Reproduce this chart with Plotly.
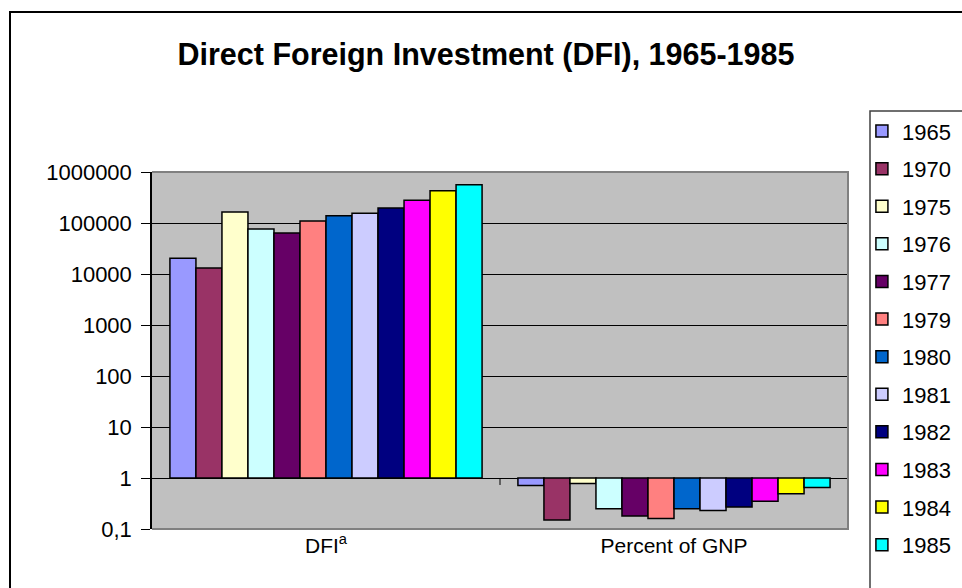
import plotly.graph_objects as go

categories = ["DFI<sup>a</sup>", "Percent of GNP"]
years = ["1965", "1970", "1975", "1976", "1977", "1979", "1980", "1981", "1982", "1983", "1984", "1985"]
dfi_values = [20400, 13100, 165000, 76000, 64000, 109000, 139000, 155000, 197000, 280000, 430000, 560000]
gnp_percent = [0.71, 0.15, 0.78, 0.25, 0.18, 0.16, 0.25, 0.23, 0.27, 0.35, 0.49, 0.65]
colors = ["#9999FF", "#993366", "#FFFFCC", "#CCFFFF", "#660066", "#FF8080",
          "#0066CC", "#CCCCFF", "#000080", "#FF00FF", "#FFFF00", "#00FFFF"]
tick_vals = [0.1, 1, 10, 100, 1000, 10000, 100000, 1000000]
tick_text = ["0,1", "1", "10", "100", "1000", "10000", "100000", "1000000"]

FONT = "Arial, Liberation Sans, sans-serif"
BASE = 1  # Excel log axis crosses at 1

fig = go.Figure()
for i, yr in enumerate(years):
    vals = [dfi_values[i], gnp_percent[i]]
    fig.add_trace(go.Bar(
        name=yr, x=categories, y=[v - BASE for v in vals], base=[BASE, BASE],
        marker=dict(color=colors[i], line=dict(color="black", width=1.5)),
        legendgroup=yr,
    ))

W, H = 962, 588
L, R, T, B = 152, 114, 172, 59

fig.update_layout(
    width=W, height=H,
    margin=dict(l=L, r=R, t=T, b=B, autoexpand=False),
    paper_bgcolor="white", plot_bgcolor="#C0C0C0",
    barmode="group", bargap=0.103, bargroupgap=0,
    font=dict(family=FONT, size=22, color="black"),
    title=dict(text="<b>Direct Foreign Investment (DFI), 1965-1985</b>",
               x=486 / W, xref="container", xanchor="center",
               y=1 - 54 / H, yref="container", yanchor="middle",
               font=dict(family=FONT, size=30.5, color="black")),
    showlegend=True,
    legend=dict(x=1.02, xanchor="left", y=1.173, yanchor="top",
                bgcolor="rgba(0,0,0,0)", borderwidth=0,
                traceorder="grouped", tracegroupgap=6, maxheight=600,
                font=dict(family=FONT, size=22, color="black")),
    xaxis=dict(type="category", range=[-0.5, 1.5], showgrid=False, ticks="",
               showline=False, tickfont=dict(size=21), ticklabelstandoff=2),
    yaxis=dict(type="log", range=[-1, 6], tickvals=tick_vals, ticktext=tick_text,
               showgrid=True, gridcolor="black", gridwidth=1,
               ticks="outside", ticklen=9, tickcolor="black", tickwidth=1,
               showline=True, linecolor="black", linewidth=1.5,
               ticklabelstandoff=5, zeroline=False),
)

# plot area border (top, right, bottom) in gray
fig.add_shape(type="path", xref="paper", yref="paper",
              path="M 0,1 L 1,1 L 1,0 L 0,0",
              line=dict(color="#808080", width=2), layer="above")
# category divider tick on the crossing axis at value 1
fig.add_shape(type="line", xref="x", yref="y", x0=0.5, x1=0.5, y0=1, y1=0.73,
              line=dict(color="black", width=1))
# outer chart border
fig.add_shape(type="rect", xref="paper", yref="paper",
              x0=(10 - L) / 696, x1=(975 - L) / 696,
              y0=1 - (600 - T) / 357, y1=1 + (T - 12) / 357,
              line=dict(color="black", width=2), layer="above")
# legend box
fig.add_shape(type="rect", xref="paper", yref="paper",
              x0=(870 - L) / 696, x1=(975 - L) / 696,
              y0=1 - (600 - T) / 357, y1=1 + (T - 111) / 357,
              line=dict(color="#404040", width=1.5), layer="above")

fig.write_html("out.html",
               config={"displayModeBar": False},
               post_script="document.body.style.margin='0';document.body.style.overflow='hidden';")
